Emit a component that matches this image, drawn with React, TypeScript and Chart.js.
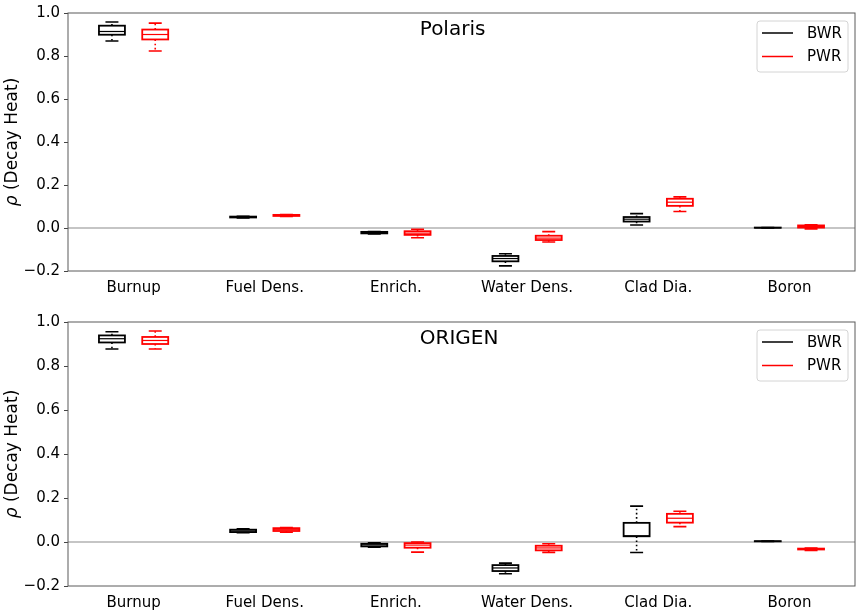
import React, { useEffect, useRef } from "react";
import { Chart, registerables } from "chart.js";

Chart.register(...registerables);

// ---- data ----
const CATEGORIES = ["Burnup", "Fuel Dens.", "Enrich.", "Water Dens.", "Clad Dia.", "Boron"];
const SERIES = ["BWR", "PWR"];
const Y_MIN = -0.2;
const Y_MAX = 1.0;
const Y_STEP = 0.2;

// each entry: [lower whisker, Q1, median, Q3, upper whisker]
const POLARIS_BWR = [
  [0.870, 0.899, 0.914, 0.941, 0.958],
  [0.047, 0.049, 0.051, 0.053, 0.055],
  [-0.028, -0.025, -0.021, -0.018, -0.016],
  [-0.176, -0.155, -0.142, -0.130, -0.120],
  [0.014, 0.030, 0.041, 0.051, 0.067],
  [0.000, 0.001, 0.001, 0.002, 0.002],
];
const POLARIS_PWR = [
  [0.823, 0.877, 0.900, 0.923, 0.953],
  [0.054, 0.056, 0.059, 0.061, 0.063],
  [-0.045, -0.032, -0.024, -0.015, -0.006],
  [-0.065, -0.056, -0.047, -0.036, -0.017],
  [0.077, 0.103, 0.120, 0.136, 0.145],
  [-0.004, 0.002, 0.007, 0.012, 0.015],
];
const ORIGEN_BWR = [
  [0.877, 0.907, 0.924, 0.939, 0.956],
  [0.042, 0.045, 0.050, 0.056, 0.060],
  [-0.024, -0.020, -0.013, -0.008, -0.004],
  [-0.144, -0.132, -0.118, -0.105, -0.096],
  [-0.048, 0.026, 0.028, 0.087, 0.163],
  [0.002, 0.003, 0.003, 0.004, 0.004],
];
const ORIGEN_PWR = [
  [0.877, 0.900, 0.916, 0.932, 0.959],
  [0.044, 0.050, 0.056, 0.063, 0.066],
  [-0.046, -0.026, -0.014, -0.005, 0.000],
  [-0.047, -0.038, -0.027, -0.017, -0.008],
  [0.070, 0.088, 0.108, 0.128, 0.140],
  [-0.038, -0.034, -0.032, -0.030, -0.027],
];

const COLORS = ["#000000", "#ff0000"];
const FONT = "'DejaVu Sans', sans-serif";

const boxPlugin = {
  id: "boxes",
  beforeDatasetsDraw(chart: any) {
    const { ctx, chartArea } = chart;
    const y0 = chart.scales.y.getPixelForValue(0);
    ctx.save();
    ctx.strokeStyle = "#8c8c8c";
    ctx.lineWidth = 1.2;
    ctx.beginPath();
    ctx.moveTo(chartArea.left, y0);
    ctx.lineTo(chartArea.right, y0);
    ctx.stroke();
    ctx.restore();
  },
  afterDatasetsDraw(chart: any) {
    const { ctx } = chart;
    const ys = chart.scales.y;
    chart.data.datasets.forEach((ds: any, i: number) => {
      const meta = chart.getDatasetMeta(i);
      meta.data.forEach((el: any, j: number) => {
        const s = ds.stats[j];
        const x = el.x;
        const w = el.width;
        const pLow = ys.getPixelForValue(s[0]);
        const pQ1 = ys.getPixelForValue(s[1]);
        const pMed = ys.getPixelForValue(s[2]);
        const pQ3 = ys.getPixelForValue(s[3]);
        const pHigh = ys.getPixelForValue(s[4]);
        ctx.save();
        ctx.strokeStyle = ds.lineColor;
        // whiskers (dotted)
        ctx.lineWidth = 1.6;
        ctx.setLineDash([1.6, 2.6]);
        ctx.beginPath();
        ctx.moveTo(x, pQ3);
        ctx.lineTo(x, pHigh);
        ctx.moveTo(x, pQ1);
        ctx.lineTo(x, pLow);
        ctx.stroke();
        ctx.setLineDash([]);
        // caps
        ctx.beginPath();
        ctx.moveTo(x - w / 4, pHigh);
        ctx.lineTo(x + w / 4, pHigh);
        ctx.moveTo(x - w / 4, pLow);
        ctx.lineTo(x + w / 4, pLow);
        ctx.stroke();
        // box
        ctx.lineWidth = 1.8;
        ctx.strokeRect(x - w / 2, pQ3, w, pQ1 - pQ3);
        // median
        ctx.lineWidth = 1.2;
        ctx.beginPath();
        ctx.moveTo(x - w / 2, pMed);
        ctx.lineTo(x + w / 2, pMed);
        ctx.stroke();
        ctx.restore();
      });
    });
  },
  afterDraw(chart: any, _args: any, opts: any) {
    const { ctx, chartArea } = chart;
    const a = chartArea;
    ctx.save();
    // frame
    ctx.strokeStyle = "#5a5a5a";
    ctx.lineWidth = 1;
    ctx.strokeRect(a.left, a.top, a.right - a.left, a.bottom - a.top);
    // panel title
    ctx.fillStyle = "#000";
    ctx.font = `20px ${FONT}`;
    ctx.textAlign = "left";
    ctx.textBaseline = "alphabetic";
    ctx.fillText(opts.title, a.left + 0.447 * (a.right - a.left), a.top + 22);
    // legend
    const lw = 91;
    const lh = 51;
    const lx = a.right - 7 - lw;
    const ly = a.top + 8;
    ctx.fillStyle = "rgba(255,255,255,0.8)";
    ctx.strokeStyle = "#d4d4d4";
    ctx.lineWidth = 1;
    ctx.beginPath();
    (ctx as any).roundRect(lx, ly, lw, lh, 3);
    ctx.fill();
    ctx.stroke();
    ctx.font = `15px ${FONT}`;
    ctx.textBaseline = "middle";
    SERIES.forEach((name, k) => {
      const yy = ly + 12 + k * 23.5;
      ctx.strokeStyle = COLORS[k];
      ctx.lineWidth = 1.5;
      ctx.beginPath();
      ctx.moveTo(lx + 5, yy);
      ctx.lineTo(lx + 36, yy);
      ctx.stroke();
      ctx.fillStyle = "#000";
      ctx.fillText(name, lx + 50, yy + 1);
    });
    // y axis label
    const cy = (a.top + a.bottom) / 2;
    ctx.translate(13, cy);
    ctx.rotate(-Math.PI / 2);
    const rho = "ρ";
    const rest = " (Decay Heat)";
    ctx.font = `italic 17px ${FONT}`;
    const w1 = ctx.measureText(rho).width;
    ctx.font = `17px ${FONT}`;
    const w2 = ctx.measureText(rest).width;
    const start = -(w1 + w2) / 2;
    ctx.fillStyle = "#000";
    ctx.textAlign = "left";
    ctx.textBaseline = "middle";
    ctx.font = `italic 17px ${FONT}`;
    ctx.fillText(rho, start, 0);
    ctx.font = `17px ${FONT}`;
    ctx.fillText(rest, start + w1, 0);
    ctx.restore();
  },
};

function formatTick(v: any) {
  const n = Number(v);
  if (Math.abs(n) < 1e-9) return "0.0";
  return n.toFixed(1).replace("-", "\u2212");
}

function makeChart(canvas: HTMLCanvasElement, title: string, bwr: number[][], pwr: number[][], padTop: number, xHeight: number) {
  const seriesData = [bwr, pwr];
  return new Chart(canvas, {
    type: "bar",
    data: {
      labels: CATEGORIES,
      datasets: SERIES.map((name, k) => ({
        label: name,
        data: seriesData[k].map((s) => [s[1], s[3]]),
        stats: seriesData[k],
        lineColor: COLORS[k],
        backgroundColor: "rgba(0,0,0,0)",
        borderWidth: 0,
        categoryPercentage: 0.66,
        barPercentage: 0.6,
      })) as any,
    },
    options: {
      responsive: false,
      animation: false,
      events: [],
      layout: { padding: { top: padTop, right: 3, left: 0, bottom: 0 } },
      plugins: {
        legend: { display: false },
        tooltip: { enabled: false },
        title: { display: false },
        boxes: { title },
      } as any,
      scales: {
        x: {
          type: "category",
          offset: true,
          grid: { display: false, drawTicks: false },
          border: { display: false },
          ticks: {
            color: "#000",
            font: { family: FONT, size: 15 },
            padding: 8,
            maxRotation: 0,
            autoSkip: false,
          },
          afterFit: (scale: any) => {
            scale.height = xHeight;
          },
        },
        y: {
          min: Y_MIN,
          max: Y_MAX,
          grid: { drawOnChartArea: false, drawTicks: true, tickLength: 4, color: "#444" },
          border: { display: false },
          ticks: {
            stepSize: Y_STEP,
            color: "#000",
            font: { family: FONT, size: 15 },
            padding: 4,
            callback: (v: any) => formatTick(v),
          },
          afterFit: (scale: any) => {
            scale.width = 68;
          },
        },
      },
    } as any,
    plugins: [boxPlugin],
  });
}

export default function App() {
  const topRef = useRef<HTMLCanvasElement>(null);
  const botRef = useRef<HTMLCanvasElement>(null);
  useEffect(() => {
    const c1 = makeChart(topRef.current!, "Polaris", POLARIS_BWR, POLARIS_PWR, 7, 35);
    const c2 = makeChart(botRef.current!, "ORIGEN", ORIGEN_BWR, ORIGEN_PWR, 16, 27);
    return () => {
      c1.destroy();
      c2.destroy();
    };
  }, []);
  return (
    <div style={{ position: "absolute", left: 0, top: 0, width: 858, height: 613, background: "#fff" }}>
      <canvas ref={topRef} width={858} height={306} style={{ display: "block", width: 858, height: 306 }} />
      <canvas ref={botRef} width={858} height={307} style={{ display: "block", width: 858, height: 307 }} />
    </div>
  );
}
